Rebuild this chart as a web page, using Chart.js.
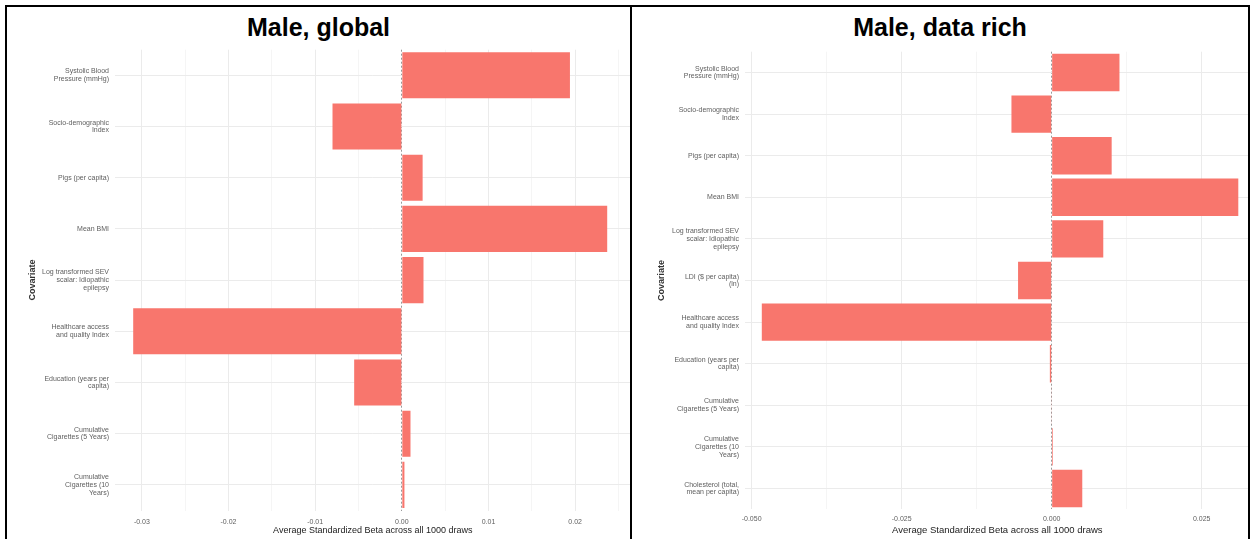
<!DOCTYPE html>
<html>
<head>
<meta charset="utf-8">
<script src="https://cdn.jsdelivr.net/npm/chart.js@4"></script>
<style>
  body { margin: 0; width: 1252px; height: 539px; background: #fff; position: relative; overflow: hidden; font-family: "Liberation Sans", Arial, sans-serif; }
  .rule { position: absolute; background: #000; }
  .panel-title { position: absolute; top: 12px; text-align: center; font-weight: bold; font-size: 25px; line-height: 30px; color: #000; }
  .cell { position: absolute; top: 7px; height: 532px; overflow: hidden; }
  .cell canvas { position: absolute; left: 0; top: 0; }
</style>
</head>
<body>
<div class="rule" style="left:5px;top:5px;width:1245px;height:2px"></div>
<div class="rule" style="left:5px;top:5px;width:2px;height:534px"></div>
<div class="rule" style="left:630px;top:5px;width:2px;height:534px"></div>
<div class="rule" style="left:1248px;top:5px;width:2px;height:534px"></div>

<div class="panel-title" style="left:7px;width:623px">Male, global</div>
<div class="panel-title" style="left:632px;width:616px">Male, data rich</div>

<div class="cell" style="left:7px;width:623px"><canvas id="leftChart" width="700" height="532"></canvas></div>
<div class="cell" style="left:632px;width:616px"><canvas id="rightChart" width="700" height="532"></canvas></div>

<script>
// left panel: Male, global
const leftCategories = [
    ['Systolic Blood', 'Pressure (mmHg)'],
    ['Socio-demographic', 'Index'],
    'Pigs (per capita)',
    'Mean BMI',
    ['Log transformed SEV', 'scalar: Idiopathic', 'epilepsy'],
    ['Healthcare access', 'and quality Index'],
    ['Education (years per', 'capita)'],
    ['Cumulative', 'Cigarettes (5 Years)'],
    ['Cumulative', 'Cigarettes (10', 'Years)']
];
const leftValues = [0.0194, -0.0080, 0.0024, 0.0237, 0.0025, -0.0310, -0.0055, 0.0010, 0.0003];
const leftMajorTicks = [-0.03, -0.02, -0.01, 0, 0.01, 0.02];
const leftTickLabels = ['-0.03', '-0.02', '-0.01', '0.00', '0.01', '0.02'];
const leftMinorTicks = [-0.025, -0.015, -0.005, 0.005, 0.015, 0.025];

// right panel: Male, data rich
const rightCategories = [
    ['Systolic Blood', 'Pressure (mmHg)'],
    ['Socio-demographic', 'Index'],
    'Pigs (per capita)',
    'Mean BMI',
    ['Log transformed SEV', 'scalar: Idiopathic', 'epilepsy'],
    ['LDI ($ per capita)', '(ln)'],
    ['Healthcare access', 'and quality Index'],
    ['Education (years per', 'capita)'],
    ['Cumulative', 'Cigarettes (5 Years)'],
    ['Cumulative', 'Cigarettes (10', 'Years)'],
    ['Cholesterol (total,', 'mean per capita)']
];
const rightValues = [0.0113, -0.0067, 0.0100, 0.0311, 0.0086, -0.0056, -0.0483, -0.0003, -0.0001, 0.0002, 0.0051];
const rightMajorTicks = [-0.05, -0.025, 0, 0.025];
const rightTickLabels = ['-0.050', '-0.025', '0.000', '0.025'];
const rightMinorTicks = [-0.0375, -0.0125, 0.0125];

const xTitle = 'Average Standardized Beta across all 1000 draws';
const yTitle = 'Covariate';

function buildChart(id, cats, vals, majors, labels, minors, opt) {
    const ctx = document.getElementById(id).getContext('2d');
    const allTicks = majors.concat(minors).sort((a, b) => a - b);
    new Chart(ctx, {
        type: 'bar',
        data: {
            labels: cats,
            datasets: [{
                data: vals,
                backgroundColor: '#F8766D',
                borderWidth: 0,
                categoryPercentage: 1,
                barPercentage: 0.9
            }]
        },
        options: {
            indexAxis: 'y',
            responsive: false,
            animation: false,
            layout: { padding: { top: opt.padTop, right: opt.padRight, bottom: 0, left: 0 } },
            plugins: { legend: { display: false }, tooltip: { enabled: false } },
            scales: {
                x: {
                    type: 'linear',
                    min: opt.min,
                    max: opt.max,
                    afterBuildTicks: s => { s.ticks = allTicks.map(v => ({ value: v })); },
                    afterFit: s => { s.height = opt.xHeight; },
                    ticks: {
                        autoSkip: false,
                        maxRotation: 0,
                        padding: opt.xTickPad,
                        color: '#5e5e5e',
                        font: { family: 'Liberation Sans', size: 7 },
                        callback: function(value) {
                            const i = majors.findIndex(m => Math.abs(m - value) < 1e-9);
                            return i >= 0 ? labels[i] : '';
                        }
                    },
                    grid: {
                        drawTicks: false,
                        color: c => {
                            if (!c.tick) return '#ebebeb';
                            if (Math.abs(c.tick.value) < 1e-9) return '#9a9a9a';
                            return majors.some(m => Math.abs(m - c.tick.value) < 1e-9) ? '#ebebeb' : '#f5f5f5';
                        }
                    },
                    border: {
                        display: false,
                        dash: c => (c.tick && Math.abs(c.tick.value) < 1e-9) ? [2, 2] : []
                    },
                    title: {
                        display: true,
                        text: xTitle,
                        color: '#222',
                        font: { family: 'Liberation Sans', size: opt.xTitleSize },
                        padding: { top: 0, bottom: 3 }
                    }
                },
                y: {
                    type: 'category',
                    afterFit: s => { s.width = opt.yWidth; },
                    ticks: {
                        autoSkip: false,
                        padding: 6,
                        color: '#5e5e5e',
                        font: { family: 'Liberation Sans', size: 7, lineHeight: 1.1 }
                    },
                    grid: { drawTicks: false, offset: false, color: '#ebebeb' },
                    border: { display: false },
                    title: {
                        display: true,
                        text: yTitle,
                        color: '#333',
                        font: { family: 'Liberation Sans', size: 9, weight: 'bold' },
                        padding: { top: opt.yTitlePad, bottom: 0 }
                    }
                }
            }
        }
    });
}

buildChart('leftChart', leftCategories, leftValues, leftMajorTicks, leftTickLabels, leftMinorTicks, {
    min: -0.0331, max: 0.0264,
    padTop: 42.7, padRight: 76.4, xHeight: 28.5, yWidth: 108,
    xTickPad: 7, xTitleSize: 9, yTitlePad: 20
});

buildChart('rightChart', rightCategories, rightValues, rightMajorTicks, rightTickLabels, rightMinorTicks, {
    min: -0.0511, max: 0.033,
    padTop: 44.7, padRight: 82.3, xHeight: 29.7, yWidth: 113,
    xTickPad: 6, xTitleSize: 9.5, yTitlePad: 24.5
});
</script>
</body>
</html>
